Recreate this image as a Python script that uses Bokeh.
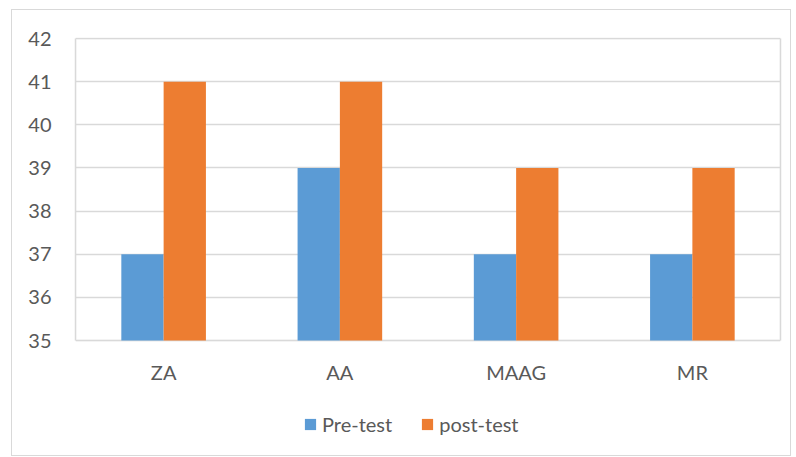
from bokeh.plotting import figure
from bokeh.models import (FactorRange, Range1d, Legend, LegendItem, FixedTicker,
                          ColumnDataSource, BoxAnnotation, LinearAxis)
from bokeh.core.properties import value
from bokeh.transform import dodge
from bokeh.embed import file_html
from bokeh.resources import INLINE

categories = ["ZA", "AA", "MAAG", "MR"]
pre_test = [37, 39, 37, 37]
post_test = [41, 41, 39, 39]
series_names = ["Pre-test", "post-test"]
y_ticks = [35, 36, 37, 38, 39, 40, 41, 42]

src = ColumnDataSource(dict(cat=categories, pre=pre_test, post=post_test))

FONT = "Lato"
FS = "20px"
GRAY = "#D9D9D9"
TXT = "#595959"

# plot area (35..42) is 302 px tall; the frame continues below it to hold labels and legend
AREA_PX = 302
FRAME_H = 410
TOP_PAD_PX = 1
y_lo, y_hi = y_ticks[0], y_ticks[-1]
px_unit = (y_hi - y_lo) / AREA_PX
y_end = y_hi + TOP_PAD_PX * px_unit
y_start = y_end - FRAME_H * px_unit

p = figure(x_range=FactorRange(*categories), y_range=Range1d(y_start, y_end),
           frame_width=705, frame_height=FRAME_H, output_backend="svg", toolbar_location=None,
           min_border_left=63, min_border_top=27, min_border_right=10, min_border_bottom=8)
p.margin = (9, 0, 0, 11)
p.styles = {"border": "1px solid #D9D9D9"}

r1 = p.vbar(x=dodge("cat", -0.12, range=p.x_range), top="pre", bottom=y_lo, width=0.24,
            source=src, fill_color="#5B9BD5", line_color=None)
r2 = p.vbar(x=dodge("cat", 0.12, range=p.x_range), top="post", bottom=y_lo, width=0.24,
            source=src, fill_color="#ED7D31", line_color=None)

# category labels under the plot area
p.text(x="cat", y=y_lo, text="cat", source=src, y_offset=31,
       text_align="center", text_baseline="middle",
       text_font=value(FONT), text_font_size=FS, text_color=TXT)

# plot area border
p.add_layout(BoxAnnotation(bottom=y_lo, top=y_hi, fill_alpha=0,
                           line_color=GRAY, line_width=1.5, level="underlay"))

p.outline_line_color = None
p.xgrid.grid_line_color = None
p.ygrid.grid_line_color = GRAY
p.ygrid.grid_line_width = 1.5
p.xaxis.visible = False

ya = p.yaxis[0]
ya.ticker = FixedTicker(ticks=y_ticks)
ya.bounds = (y_lo, y_hi)
ya.axis_line_color = GRAY
ya.axis_line_width = 1.5
ya.major_tick_line_color = None
ya.minor_tick_line_color = None
ya.major_tick_out = 0
ya.minor_tick_out = 0
ya.major_label_text_font = FONT
ya.major_label_text_font_size = FS
ya.major_label_text_color = TXT
ya.major_label_standoff = 24

# right edge of the plot area
ra = LinearAxis(ticker=FixedTicker(ticks=y_ticks), bounds=(y_lo, y_hi),
                axis_line_color=GRAY, axis_line_width=1.5,
                major_tick_line_color=None, minor_tick_line_color=None,
                major_tick_out=0, minor_tick_out=0, major_label_standoff=0,
                major_label_text_font_size="0px", major_label_text_alpha=0)
p.add_layout(ra, "right")

legend = Legend(items=[LegendItem(label=series_names[0], renderers=[r1]),
                       LegendItem(label=series_names[1], renderers=[r2])],
                orientation="horizontal", location=(228, 11),
                label_text_font=FONT, label_text_font_size=FS, label_text_color=TXT,
                glyph_width=14, glyph_height=14, label_standoff=5, spacing=28,
                border_line_color=None, background_fill_alpha=0, margin=0, padding=0)
p.add_layout(legend, "center")

open("out.html", "w").write(file_html(p, INLINE))
